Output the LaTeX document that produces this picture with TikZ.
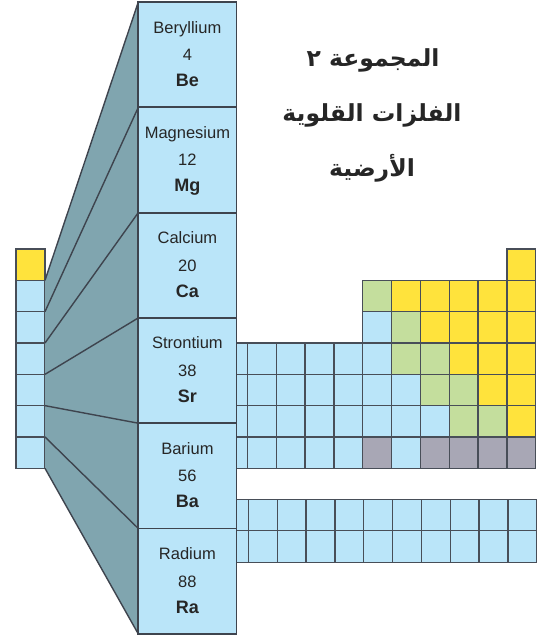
\documentclass[tikz,border=0pt]{standalone}
\usepackage{fontspec}
\setmainfont{Liberation Sans}
\newfontfamily\arabicfont[Script=Arabic]{DejaVu Sans}
\TeXXeTstate=1
\usetikzlibrary{positioning}
\definecolor{cb}{RGB}{186,229,249}
\definecolor{cy}{RGB}{255,227,60}
\definecolor{cg}{RGB}{196,222,157}
\definecolor{ck}{RGB}{168,167,181}
\definecolor{funnelc}{RGB}{128,165,175}
\definecolor{gridc}{RGB}{72,78,88}
\definecolor{darkc}{RGB}{62,68,78}

\begin{document}
\begin{tikzpicture}[x=1pt, y=-1pt,
    cell/.style={draw=gridc, line width=1.3pt, fill=cb, inner sep=0pt, outer sep=0pt,
      minimum width=28.83pt, minimum height=31.33pt, anchor=north west},
    bigcell/.style={draw=darkc, line width=1.8pt, fill=cb, inner sep=0pt, outer sep=0pt,
      minimum width=98.2pt, minimum height=105.3pt, anchor=north west},
    elname/.style={anchor=base, inner sep=0pt, font=\fontsize{16.5}{18}\selectfont, text=black!85},
    elsym/.style={anchor=base, inner sep=0pt, font=\fontsize{18}{20}\selectfont\bfseries, text=black!85},
    title/.style={anchor=base, inner sep=0pt, font=\fontsize{23.5}{26}\selectfont\arabicfont\bfseries, text=black!85}]
    \useasboundingbox (0,0) rectangle (543,638);

    % group 1 column
    \foreach \r in {1,...,7}
        \node[cell, minimum width=29pt] (g1r\r) at (16,{249+(\r-1)*31.33}) {};
    \node[cell, minimum width=29pt, fill=cy] (g1r1) at (16,249) {};

    % funnel towards the enlarged group 2
    \coordinate (ftop) at (138.3,2);
    \coordinate (fbot) at (138.3,634);
    \fill[funnelc] (g1r2.north east) -- (ftop) -- (fbot) -- (g1r7.south east) -- cycle;
    \draw[darkc, line width=1.4pt] (g1r2.north east) -- (ftop);
    \draw[darkc, line width=1.4pt] (g1r7.south east) -- (fbot);

    % p block
    \node[cell, fill=cy] (r1c18) at (506.85,249) {};
    \foreach \r/\row in {2/{cg,cy,cy,cy,cy,cy}, 3/{cb,cg,cy,cy,cy,cy}, 4/{cb,cg,cg,cy,cy,cy},
                         5/{cb,cb,cg,cg,cy,cy}, 6/{cb,cb,cb,cg,cg,cy}, 7/{ck,cb,ck,ck,ck,ck}}
        \foreach \col [count=\g from 13] in \row
            \node[cell, fill=\col] (r\r c\g) at ({362.7+(\g-13)*28.83},{249+(\r-1)*31.33}) {};

    % d block, cut by the big column
    \foreach \r in {4,...,7}
        \foreach \g in {8,...,12}
            \node[cell] (r\r c\g) at ({362.7+(\g-13)*28.83},{249+(\r-1)*31.33}) {};

    % f block
    \foreach \r in {1,2}
        \foreach \i in {0,...,10}
            \node[cell, minimum width=28.84pt, minimum height=31.5pt] (f\r c\i) at ({219.5+\i*28.84},{499.3+(\r-1)*31.5}) {};

    % enlarged group 2
    \foreach \name/\z/\sym [count=\k from 0] in {Beryllium/4/Be, Magnesium/12/Mg, Calcium/20/Ca,
                                                Strontium/38/Sr, Barium/56/Ba, Radium/88/Ra} {
        \node[bigcell] (\sym) at (138.3,{2+\k*105.3}) {};
        \node[elname] (\sym-name) at ([yshift=-31pt]\sym.north) {\name};
        \node[elname] (\sym-z) at ([yshift=-58.5pt]\sym.north) {\z};
        \node[elsym] (\sym-sym) at ([yshift=-84.5pt]\sym.north) {\sym};
    }
    \foreach \a/\b in {g1r3/Mg, g1r4/Ca, g1r5/Sr, g1r6/Ba, g1r7/Ra}
        \draw[darkc, line width=1.4pt] (\a.north east) -- (\b.north west);

    % title
    \node[title] (t1) at (373,66) {\beginR المجموعة ٢\endR};
    \node[title] (t2) at (372,121) {\beginR الفلزات القلوية\endR};
    \node[title] (t3) at (372,176) {\beginR الأرضية\endR};
\end{tikzpicture}
\end{document}
